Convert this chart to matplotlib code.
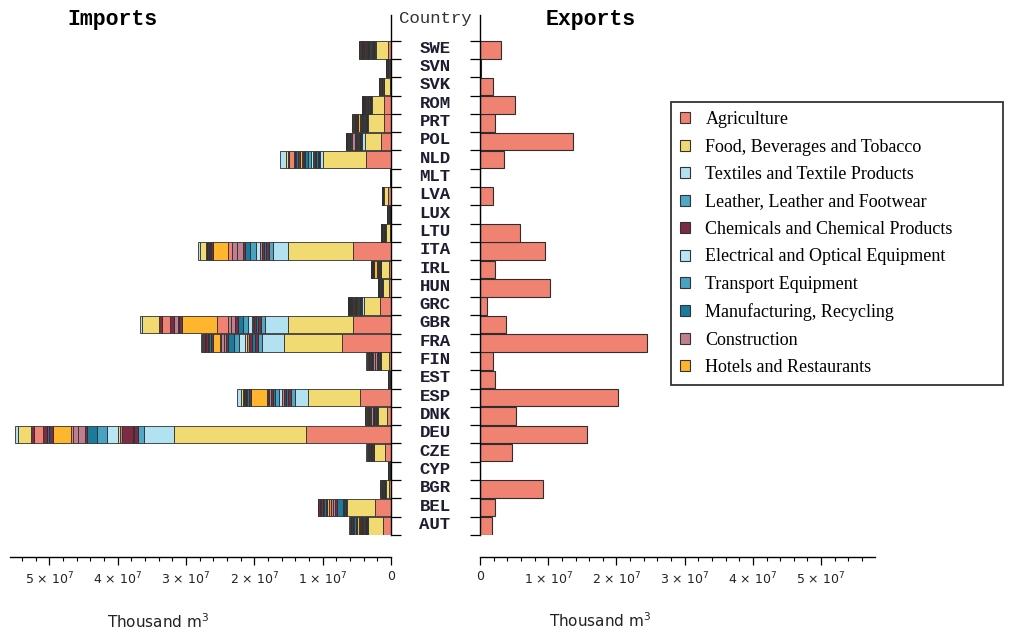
import matplotlib
matplotlib.use('Agg')
import matplotlib.pyplot as plt
from matplotlib.patches import Patch
from matplotlib.ticker import MultipleLocator, FuncFormatter
import numpy as np

# water footprint trade by country, thousand m3 (values below in millions)
countries = ['AUT', 'BEL', 'BGR', 'CYP', 'CZE', 'DEU', 'DNK', 'ESP', 'EST', 'FIN',
             'FRA', 'GBR', 'GRC', 'HUN', 'IRL', 'ITA', 'LTU', 'LUX', 'LVA', 'MLT',
             'NLD', 'POL', 'PRT', 'ROM', 'SVK', 'SVN', 'SWE']

sectors = ['Agriculture', 'Food, Beverages and Tobacco', 'Textiles and Textile Products',
           'Leather, Leather and Footwear', 'Chemicals and Chemical Products',
           'Electrical and Optical Equipment', 'Transport Equipment',
           'Manufacturing, Recycling', 'Construction', 'Hotels and Restaurants']

# import segments, stacked from 0 outward (25 industry slots)
imp_AUT = [1.2, 2.1, 0.1, 0.1, 0.1, 0.1, 0.1, 0.1, 0.1, 0.1, 0.1, 0.1, 0.1, 0.1, 0.1, 0.1, 0.3, 0.17, 0.17, 0.17, 0.17, 0.17, 0.17, 0.04, 0.04]
imp_BEL = [2.3, 4.15, 0.1, 0.05, 0.05, 0.05, 0.05, 0.05, 0.05, 0.05, 0.05, 0.95, 0.3, 0.3, 0.3, 0.3, 0.2, 0.22, 0.22, 0.22, 0.22, 0.22, 0.22, 0.05, 0.03]
imp_BGR = [0.3, 0.5, 0.03, 0.035, 0.035, 0.035, 0.035, 0.035, 0.035, 0.035, 0.035, 0.035, 0.035, 0.035, 0.035, 0.035, 0.035, 0.035, 0.035, 0.035, 0.035, 0.035, 0.035, 0.01, 0.01]
imp_CYP = [0.03, 0.05, 0.01, 0.015, 0.015, 0.015, 0.015, 0.015, 0.015, 0.015, 0.015, 0.015, 0.015, 0.015, 0.015, 0.015, 0.015, 0.015, 0.015, 0.015, 0.015, 0.015, 0.015, 0.005, 0.005]
imp_CZE = [0.85, 1.6, 0.05, 0.05, 0.05, 0.05, 0.05, 0.05, 0.05, 0.05, 0.05, 0.05, 0.05, 0.05, 0.05, 0.05, 0.05, 0.05, 0.05, 0.05, 0.05, 0.05, 0.05, 0.05, 0.05]
imp_DEU = [12.4, 19.4, 4.3, 0.9, 0.6, 0.2, 1.5, 0.3, 0.4, 1.5, 1.46, 1.46, 0.34, 1.0, 0.7, 0.34, 2.7, 0.5, 0.3, 0.1, 0.45, 1.4, 0.35, 1.9, 0.5]
imp_DNK = [0.6, 1.35, 0.05, 0.06, 0.06, 0.06, 0.06, 0.06, 0.06, 0.06, 0.06, 0.06, 0.06, 0.3, 0.09, 0.09, 0.09, 0.09, 0.09, 0.09, 0.09, 0.09, 0.09, 0.03, 0.02]
imp_ESP = [4.5, 7.6, 1.9, 0.7, 0.3, 0.3, 0.3, 0.3, 0.1, 0.4, 0.5, 0.4, 0.2, 0.3, 0.2, 0.1, 2.4, 0.3, 0.2, 0.2, 0.2, 0.1, 0.1, 0.4, 0.5]
imp_EST = [0.05, 0.08, 0.01, 0.017, 0.017, 0.017, 0.017, 0.017, 0.017, 0.017, 0.017, 0.017, 0.017, 0.017, 0.017, 0.017, 0.017, 0.017, 0.017, 0.017, 0.017, 0.017, 0.017, 0.01, 0.01]
imp_FIN = [0.25, 1.2, 0.05, 0.05, 0.05, 0.05, 0.05, 0.05, 0.05, 0.05, 0.05, 0.05, 0.05, 0.4, 0.2, 0.12, 0.12, 0.12, 0.12, 0.12, 0.12, 0.12, 0.12, 0.02, 0.02]
imp_FRA = [7.1, 8.6, 3.2, 0.5, 0.5, 0.45, 0.4, 0.35, 0.2, 0.9, 0.8, 0.8, 0.3, 0.4, 0.3, 0.2, 1.0, 0.3, 0.3, 0.2, 0.3, 0.1, 0.25, 0.2, 0.15]
imp_GBR = [5.62, 9.46, 3.3, 0.6, 0.5, 0.3, 0.3, 0.1, 0.1, 0.7, 0.7, 0.7, 0.5, 0.6, 0.4, 1.6, 5.1, 0.4, 0.2, 0.6, 0.5, 1.2, 0.5, 2.45, 0.35]
imp_GRC = [1.55, 2.35, 0.35, 0.1, 0.1, 0.1, 0.1, 0.1, 0.1, 0.1, 0.1, 0.1, 0.1, 0.1, 0.1, 0.1, 0.2, 0.09, 0.09, 0.09, 0.09, 0.09, 0.09, 0.03, 0.03]
imp_HUN = [0.35, 0.85, 0.03, 0.035, 0.035, 0.035, 0.035, 0.035, 0.035, 0.035, 0.035, 0.035, 0.035, 0.035, 0.035, 0.035, 0.035, 0.035, 0.035, 0.035, 0.035, 0.035, 0.035, 0.01, 0.01]
imp_IRL = [0.25, 1.15, 0.05, 0.05, 0.05, 0.05, 0.05, 0.05, 0.05, 0.05, 0.05, 0.05, 0.05, 0.05, 0.05, 0.05, 0.4, 0.06, 0.06, 0.06, 0.06, 0.06, 0.06, 0.02, 0.02]
imp_ITA = [5.6, 9.4, 2.3, 0.6, 0.4, 0.3, 0.3, 0.2, 0.1, 0.6, 0.8, 0.7, 0.4, 0.8, 0.7, 0.6, 2.3, 0.2, 0.2, 0.1, 0.2, 0.1, 0.2, 0.8, 0.4]
imp_LTU = [0.2, 0.6, 0.05, 0.03, 0.03, 0.03, 0.03, 0.03, 0.03, 0.03, 0.03, 0.03, 0.03, 0.03, 0.03, 0.03, 0.03, 0.03, 0.03, 0.03, 0.03, 0.03, 0.03, 0.01, 0.01]
imp_LUX = [0.05, 0.1, 0.02, 0.021, 0.021, 0.021, 0.021, 0.021, 0.021, 0.021, 0.021, 0.021, 0.021, 0.021, 0.021, 0.021, 0.021, 0.021, 0.021, 0.021, 0.021, 0.021, 0.021, 0.005, 0.005]
imp_LVA = [0.5, 0.5, 0.02, 0.013, 0.013, 0.013, 0.013, 0.013, 0.013, 0.013, 0.013, 0.013, 0.013, 0.013, 0.013, 0.013, 0.013, 0.013, 0.013, 0.013, 0.013, 0.013, 0.013, 0.01, 0.01]
imp_MLT = [0.01, 0.02, 0.005, 0.003, 0.003, 0.003, 0.003, 0.003, 0.003, 0.003, 0.003, 0.003, 0.003, 0.003, 0.003, 0.003, 0.003, 0.003, 0.003, 0.003, 0.003, 0.003, 0.003, 0.003, 0.002]
imp_NLD = [3.6, 6.3, 0.45, 0.2, 0.2, 0.2, 0.2, 0.1, 0.1, 0.4, 0.4, 0.4, 0.15, 0.1, 0.1, 0.1, 0.35, 0.25, 0.25, 0.2, 0.2, 0.6, 0.2, 0.35, 0.8]
imp_POL = [1.5, 2.3, 0.5, 0.1, 0.1, 0.1, 0.1, 0.1, 0.1, 0.1, 0.1, 0.1, 0.1, 0.35, 0.15, 0.09, 0.09, 0.09, 0.09, 0.09, 0.09, 0.09, 0.09, 0.05, 0.03]
imp_PRT = [1.0, 2.4, 0.1, 0.08, 0.08, 0.08, 0.08, 0.08, 0.08, 0.08, 0.08, 0.08, 0.08, 0.08, 0.08, 0.08, 0.35, 0.12, 0.12, 0.12, 0.12, 0.12, 0.12, 0.05, 0.05]
imp_ROM = [1.0, 1.8, 0.1, 0.065, 0.065, 0.065, 0.065, 0.065, 0.065, 0.065, 0.065, 0.065, 0.065, 0.065, 0.065, 0.065, 0.065, 0.065, 0.065, 0.065, 0.065, 0.065, 0.065, 0.03, 0.02]
imp_SVK = [0.15, 0.85, 0.05, 0.035, 0.035, 0.035, 0.035, 0.035, 0.035, 0.035, 0.035, 0.035, 0.035, 0.035, 0.035, 0.035, 0.035, 0.035, 0.035, 0.035, 0.035, 0.035, 0.035, 0.03, 0.02]
imp_SVN = [0.1, 0.25, 0.03, 0.015, 0.015, 0.015, 0.015, 0.015, 0.015, 0.015, 0.015, 0.015, 0.015, 0.015, 0.015, 0.015, 0.015, 0.015, 0.015, 0.015, 0.015, 0.015, 0.015, 0.01, 0.01]
imp_SWE = [0.5, 1.7, 0.2, 0.11, 0.11, 0.11, 0.11, 0.11, 0.11, 0.11, 0.11, 0.11, 0.11, 0.11, 0.11, 0.11, 0.11, 0.11, 0.11, 0.11, 0.11, 0.11, 0.11, 0.1, 0.05]

exports = [1.7, 2.2, 9.2, 0.0, 4.7, 15.7, 5.3, 20.3, 2.2, 1.9,
           24.5, 3.8, 1.0, 10.3, 2.2, 9.6, 5.8, 0.0, 1.9, 0.0,
           3.5, 13.7, 2.2, 5.1, 1.9, 0.15, 3.1]

imports = [imp_AUT, imp_BEL, imp_BGR, imp_CYP, imp_CZE, imp_DEU, imp_DNK, imp_ESP, imp_EST,
           imp_FIN, imp_FRA, imp_GBR, imp_GRC, imp_HUN, imp_IRL, imp_ITA, imp_LTU, imp_LUX,
           imp_LVA, imp_MLT, imp_NLD, imp_POL, imp_PRT, imp_ROM, imp_SVK, imp_SVN, imp_SWE]

palette = ['#F08272', '#F2DA73', '#B2E2F2', '#4FA8C6', '#7D2A45',
           '#B8E6F5', '#48A2C2', '#1C7A9A', '#BF7F8F', '#FFB52E']
# colour of each stacked slot (index into palette)
slot_colors = [0, 1, 2, 3, 4, 7, 4, 8, 1, 5, 6, 7, 4, 8, 8, 0, 9, 4, 7, 8, 4, 0, 4, 1, 2]

edge = '#2e2e2e'
W, H = 1015, 634
fig = plt.figure(figsize=(W / 100, H / 100), dpi=100)
ax_l = fig.add_axes([10 / W, 99 / H, 381 / W, 520 / H])
ax_r = fig.add_axes([480 / W, 99 / H, 395 / W, 520 / H])

ypos = np.arange(len(countries))
imp = np.array(imports) * 1e6
cum = np.zeros(len(countries))
for k in range(imp.shape[1]):
    ax_l.barh(ypos, imp[:, k], left=cum, height=0.96, color=palette[slot_colors[k]],
              edgecolor=edge, linewidth=0.6)
    cum += imp[:, k]

ax_r.barh(ypos, np.array(exports) * 1e6, height=0.96, color=palette[0],
          edgecolor=edge, linewidth=0.8)

ax_l.set_xlim(5.574e7, 0)
ax_r.set_xlim(0, 5.79e7)


def sci(v, pos):
    n = int(round(v / 1e7))
    return '0' if n == 0 else f'{n} × 10$^{{7}}$'


for ax, side in ((ax_l, 'right'), (ax_r, 'left')):
    ax.set_ylim(-0.5, 27.9)
    for s in ('top', 'left', 'right'):
        ax.spines[s].set_visible(s == side)
    ax.spines[side].set_linewidth(1.0)
    ax.spines['bottom'].set_position(('outward', 16))
    ax.spines['bottom'].set_linewidth(1.0)
    ax.yaxis.set_ticks_position(side)
    ax.set_yticks(np.arange(-0.5, 27, 1))
    ax.set_yticklabels([])
    ax.tick_params(axis='y', direction='out', length=7.5, width=0.9)
    ax.xaxis.set_major_locator(MultipleLocator(1e7))
    ax.xaxis.set_minor_locator(MultipleLocator(2e6))
    ax.xaxis.set_major_formatter(FuncFormatter(sci))
    ax.tick_params(axis='x', which='major', direction='out', length=5.5, width=0.9,
                   pad=4, labelsize=9, labelcolor='#222222')
    ax.tick_params(axis='x', which='minor', direction='out', length=3, width=0.8)
    ax.patch.set_alpha(0)

for i, c in enumerate(countries):
    ax_l.text(1.1155, i + 0.08, c, transform=ax_l.get_yaxis_transform(), ha='center',
              va='center', family='Liberation Mono', weight='bold', size=12.5,
              color='#1e1e32')

fig.text(112 / W, 1 - 20 / H, 'Imports', ha='center', va='center',
         family='Liberation Mono', weight='bold', size=15.5)
fig.text(591 / W, 1 - 20 / H, 'Exports', ha='center', va='center',
         family='Liberation Mono', weight='bold', size=15.5)
fig.text(435 / W, 1 - 18 / H, 'Country', ha='center', va='center',
         family='Liberation Mono', size=12.5, color='#333333')
fig.text(158 / W, 1 - 622 / H, 'Thousand m$^3$', ha='center', va='center', size=11,
         color='#222222')
fig.text(600 / W, 1 - 621 / H, 'Thousand m$^3$', ha='center', va='center', size=11,
         color='#222222')

handles = [Patch(facecolor=palette[i], edgecolor='#333333', linewidth=0.8)
           for i in range(len(sectors))]
leg = fig.legend(handles, sectors, loc='upper left', mode='expand',
                 bbox_to_anchor=(671 / W, 1 - 384 / H, 332 / W, 282 / H),
                 borderaxespad=0, borderpad=0.5, labelspacing=0.58,
                 handlelength=0.56, handleheight=0.56, handletextpad=0.85,
                 prop={'family': 'Liberation Serif', 'size': 13},
                 fancybox=False, framealpha=1, edgecolor='#333333')
leg.get_frame().set_linewidth(1.3)

fig.savefig('out.png', dpi=100)
